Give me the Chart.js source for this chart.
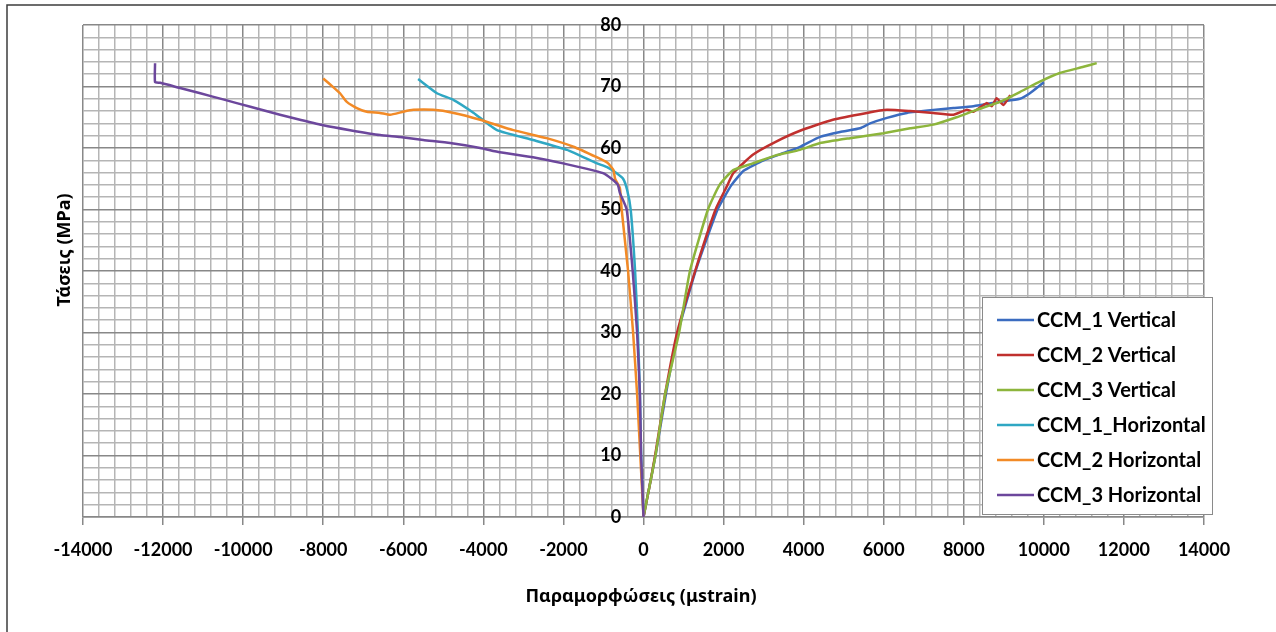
<!DOCTYPE html>
<html>
<head>
<meta charset="utf-8">
<script src="https://cdn.jsdelivr.net/npm/chart.js@4.4.1/dist/chart.umd.min.js"></script>
<style>
  html, body { margin: 0; padding: 0; background: #fff; }
</style>
</head>
<body>
<canvas id="chart" width="1276" height="632"></canvas>
<script>
// axis limits
const xMin = -14000, xMax = 14000, xStep = 400, xLabelStep = 2000;
const yMin = 0, yMax = 80, yStep = 2, yLabelStep = 10;
// strain value where the stress labels sit (just left of the 0 line)
const yLabelAt = -560;

const seriesNames = [
  "CCM_1 Vertical", "CCM_2 Vertical", "CCM_3 Vertical",
  "CCM_1_Horizontal", "CCM_2 Horizontal", "CCM_3 Horizontal"
];
const seriesColors = ["#3b6cc0", "#c0302e", "#8db53c", "#2fa7c3", "#f28a26", "#6c479c"];

// CCM_1 Vertical
const v1Strain = [0, 150, 300, 560, 860, 1300, 1850, 2200, 2500, 3000, 3500, 3910, 4410, 4910, 5410, 5660, 6080, 6580, 7240, 7740, 8240, 8900, 9400, 9650, 10000];
const v1Stress = [0, 5, 10, 20, 30, 40, 50, 54, 56.3, 58, 59.2, 60.2, 61.8, 62.6, 63.2, 64, 64.9, 65.7, 66.2, 66.5, 66.8, 67.5, 68, 68.9, 70.7];

// CCM_2 Vertical
const v2Strain = [0, 150, 290, 540, 840, 1290, 1800, 2100, 2240, 2730, 3300, 3910, 4730, 5580, 6080, 6660, 7240, 7740, 8070, 8240, 8570, 8700, 8820, 8990, 9160];
const v2Stress = [0, 5, 10, 20, 30, 40, 50, 54, 55.9, 58.9, 61, 62.8, 64.6, 65.7, 66.2, 66, 65.7, 65.4, 66.2, 65.9, 67.3, 66.8, 68.1, 67, 68.6];

// CCM_3 Vertical
const v3Strain = [0, 150, 300, 540, 890, 1160, 1610, 1900, 2240, 2730, 3300, 3910, 4410, 5160, 5990, 6660, 7240, 7820, 8320, 8900, 9400, 9900, 10400, 10990, 11320];
const v3Stress = [0, 5, 10, 20, 30, 40, 50, 54, 56.4, 57.5, 58.8, 59.7, 60.8, 61.6, 62.4, 63.2, 63.8, 65, 66.2, 67.5, 69.1, 70.8, 72.2, 73.2, 73.8];

// CCM_1_Horizontal
const h1Strain = [0, -30, -60, -90, -140, -210, -320, -410, -510, -670, -910, -1160, -1910, -2760, -3660, -4240, -4740, -5160, -5630];
const h1Stress = [0, 5, 10, 20, 30, 40, 50, 53.2, 55, 55.9, 56.9, 57.5, 59.7, 61.3, 62.9, 65.7, 67.8, 68.9, 71.2];

// CCM_2 Horizontal
const h2Strain = [0, -40, -80, -160, -260, -385, -545, -590, -710, -750, -900, -1170, -1750, -2420, -3250, -4080, -4740, -5250, -5750, -6000, -6330, -6580, -6910, -7160, -7410, -7580, -7750, -8000];
const h2Stress = [0, 5, 10, 20, 30, 40, 50, 53.5, 55, 56.4, 57.6, 58.5, 60.2, 61.6, 62.9, 64.6, 65.7, 66.2, 66.2, 65.9, 65.4, 65.7, 65.9, 66.5, 67.5, 68.9, 69.9, 71.3];

// CCM_3 Horizontal
const h3Strain = [0, -30, -60, -90, -160, -270, -420, -590, -640, -800, -1010, -1410, -2010, -2760, -3590, -4080, -4830, -5500, -6080, -6580, -7330, -8000, -8580, -9080, -9820, -10500, -11070, -11600, -12070, -12200, -12200];
const h3Stress = [0, 5, 10, 20, 30, 40, 50, 52.7, 54, 55, 55.9, 56.6, 57.5, 58.5, 59.3, 60, 60.8, 61.3, 61.8, 62.1, 62.9, 63.7, 64.6, 65.4, 66.7, 67.9, 68.9, 69.8, 70.6, 70.7, 73.8];

const series = [
  [v1Strain, v1Stress], [v2Strain, v2Stress], [v3Strain, v3Stress],
  [h1Strain, h1Stress], [h2Strain, h2Stress], [h3Strain, h3Stress]
];

const gridMinor = "#b5b5b5";
const gridMajor = "#888888";
const tickFont = { family: "Lato", size: 18, weight: "bold" };

const datasets = seriesNames.map((name, i) => ({
  label: name,
  data: series[i][0].map((x, j) => ({ x: x, y: series[i][1][j] })),
  borderColor: seriesColors[i],
  backgroundColor: seriesColors[i],
  borderWidth: 2.5,
  showLine: true,
  pointRadius: 0,
  fill: false,
  tension: 0.15,
  order: 6 - i
}));

const framePlugin = {
  id: "frame",
  beforeDraw(chart) {
    const c = chart.ctx;
    c.save();
    c.strokeStyle = "#3c3c3c";
    c.lineWidth = 1.5;
    c.beginPath();
    c.moveTo(7, 632);
    c.lineTo(7, 5);
    c.lineTo(1276, 5);
    c.stroke();
    c.restore();
  }
};

const textPlugin = {
  id: "texts",
  afterDraw(chart) {
    const c = chart.ctx;
    c.save();
    c.fillStyle = "#000";
    c.font = "bold 18px 'Noto Sans'";
    c.textAlign = "center";
    c.textBaseline = "middle";
    c.fillText("Παραμορφώσεις (μstrain)", 641, 597);
    c.translate(65, 250);
    c.rotate(-Math.PI / 2);
    c.fillText("Τάσεις (MPa)", 0, 0);
    c.restore();

    // legend box
    const bx = 982, by = 297, bw = 230, bh = 217;
    c.save();
    c.fillStyle = "#fff";
    c.fillRect(bx, by, bw, bh);
    c.strokeStyle = "#8a8a8a";
    c.lineWidth = 1;
    c.strokeRect(bx + 0.5, by + 0.5, bw, bh);
    c.font = "bold 20px Lato";
    c.textAlign = "left";
    c.textBaseline = "middle";
    chart.data.datasets.forEach((ds, i) => {
      const yy = by + 23 + i * 35;
      c.strokeStyle = ds.borderColor;
      c.lineWidth = 2.5;
      c.beginPath();
      c.moveTo(bx + 15, yy);
      c.lineTo(bx + 52, yy);
      c.stroke();
      c.fillStyle = "#000";
      c.fillText(ds.label, bx + 55, yy + 1);
    });
    c.restore();
  }
};

new Chart(document.getElementById("chart"), {
  type: "scatter",
  data: { datasets: datasets },
  options: {
    responsive: false,
    animation: false,
    layout: { padding: { left: 83, right: 72, top: 25, bottom: 75 } },
    plugins: {
      legend: { display: false },
      tooltip: { enabled: false }
    },
    scales: {
      x: {
        type: "linear",
        min: xMin,
        max: xMax,
        afterFit(scale) { scale.height = 40; },
        ticks: {
          stepSize: xStep,
          autoSkip: false,
          maxRotation: 0,
          padding: 14,
          color: "#000",
          font: tickFont,
          callback: (v) => (v % xLabelStep === 0 ? String(v) : "")
        },
        grid: {
          color: (c) => (c.tick && c.tick.value % xLabelStep === 0 ? gridMajor : gridMinor),
          tickColor: (c) => (c.tick && c.tick.value % xLabelStep === 0 ? gridMajor : "rgba(0,0,0,0)"),
          lineWidth: 1.5,
          tickLength: 8
        },
        border: { color: gridMajor, width: 1.5 }
      },
      y: {
        type: "linear",
        min: yMin,
        max: yMax,
        position: { x: yLabelAt },
        ticks: {
          stepSize: yStep,
          autoSkip: false,
          padding: 0,
          color: "#000",
          font: tickFont,
          callback: (v) => (v % yLabelStep === 0 ? String(v) : "")
        },
        grid: {
          color: (c) => (c.tick && c.tick.value % yLabelStep === 0 ? gridMajor : gridMinor),
          drawTicks: false,
          lineWidth: 1.5
        },
        border: { display: false }
      }
    }
  },
  plugins: [framePlugin, textPlugin]
});
</script>
</body>
</html>
